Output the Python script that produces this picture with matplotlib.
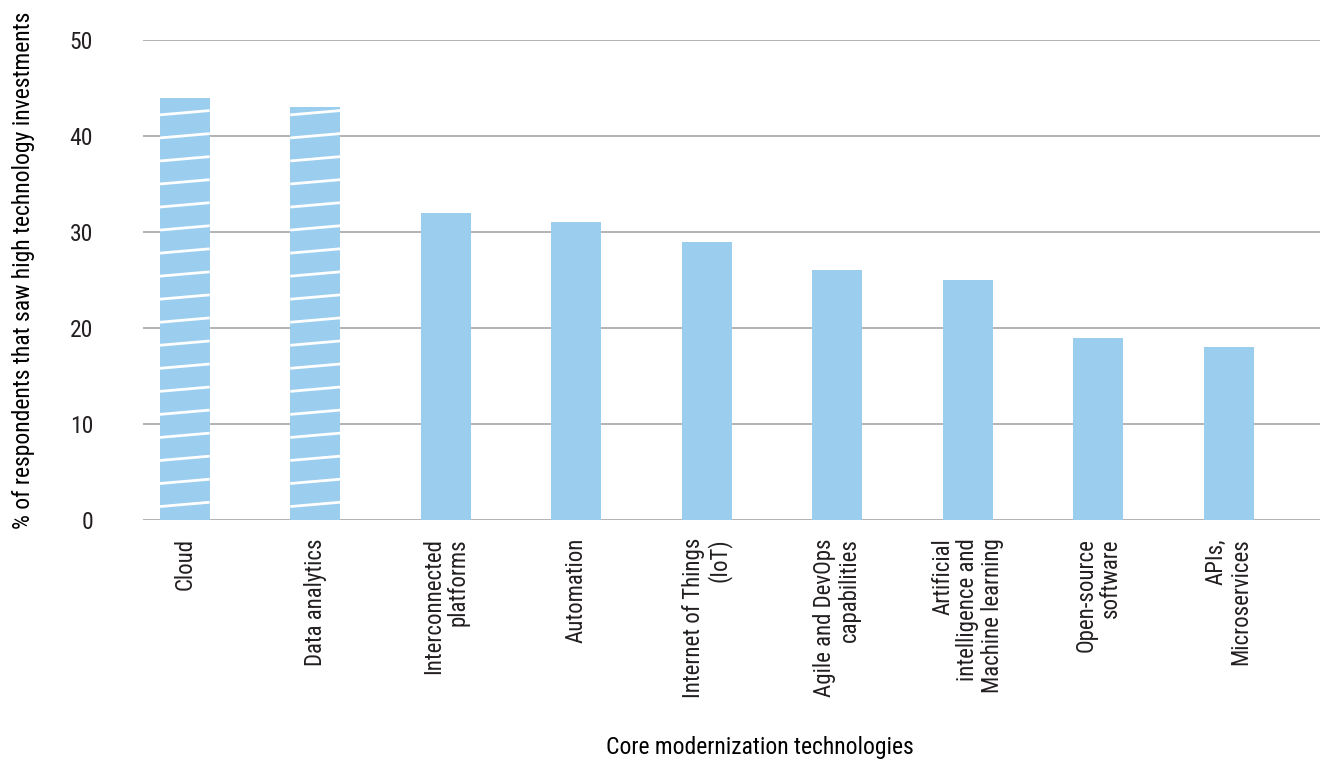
import numpy as np
import matplotlib
matplotlib.use("Agg")
import matplotlib.pyplot as plt

# data
CATEGORIES = [
    "Cloud",
    "Data analytics",
    "Interconnected\nplatforms",
    "Automation",
    "Internet of Things\n(IoT)",
    "Agile and DevOps\ncapabilities",
    "Artificial\nintelligence and\nMachine learning",
    "Open-source\nsoftware",
    "APIs,\nMicroservices",
]
VALUES = [44, 43, 32, 31, 29, 26, 25, 19, 18]
HATCHED = [True, True, False, False, False, False, False, False, False]
Y_TICKS = [0, 10, 20, 30, 40, 50]

BAR_COLOR = "#9acdee"
GRID_COLOR = "#a6a6a6"
TEXT_COLOR = "#231f20"
X_LABEL = "Core modernization technologies"
Y_LABEL = "% of respondents that saw high technology investments"

plt.rcParams["font.family"] = ["Liberation Sans Narrow", "DejaVu Sans Condensed",
                               "Roboto Condensed", "DejaVu Sans"]
plt.rcParams["font.stretch"] = "condensed"
plt.rcParams["text.color"] = TEXT_COLOR


def plot():
    fig = plt.figure(figsize=(13.2, 7.6), dpi=100)
    ax = fig.add_axes([143 / 1320, 1 - 520 / 760, 1 - 143 / 1320, 480 / 760])

    x = np.arange(len(CATEGORIES))
    width = 0.383
    bars = ax.bar(x, VALUES, width=width, color=BAR_COLOR, zorder=2)

    # slanted white stripes on the highlighted bars
    for bar, flag in zip(bars, HATCHED):
        if not flag:
            continue
        x0 = bar.get_x()
        x1 = x0 + bar.get_width()
        for y0 in np.arange(-1.0, bar.get_height() + 1, 2.4):
            line, = ax.plot([x0, x1], [y0, y0 + 0.45], color="white",
                            lw=2.0, zorder=3, solid_capstyle="butt")
            line.set_clip_path(bar)

    ax.set_xlim(-0.32, 8.70)
    ax.set_ylim(0, 50)
    ax.set_yticks(Y_TICKS)
    ax.set_yticklabels([str(t) for t in Y_TICKS], fontsize=17, color=TEXT_COLOR)
    ax.set_xticks(x)
    ax.set_xticklabels(CATEGORIES, rotation=90, fontsize=16.5, color=TEXT_COLOR,
                       va="top", ha="center", multialignment="right",
                       linespacing=1.1)
    ax.tick_params(axis="y", length=0, pad=36)
    ax.tick_params(axis="x", length=0, pad=13)

    ax.yaxis.grid(True, color=GRID_COLOR, lw=1.2)
    ax.set_axisbelow(True)
    for s in ax.spines.values():
        s.set_visible(False)

    ax.set_ylabel(Y_LABEL, fontsize=17)
    ax.yaxis.set_label_coords(-0.092, 0.52)
    ax.set_xlabel(X_LABEL, fontsize=17)
    ax.xaxis.set_label_coords(0.524, -0.45)

    fig.savefig("out.png", dpi=100)


plot()
